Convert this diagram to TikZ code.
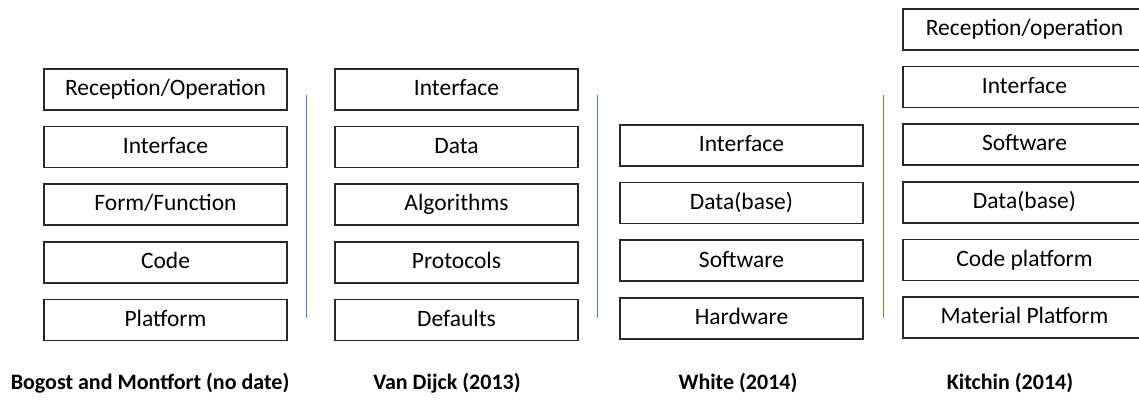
\documentclass[tikz,border=0pt]{standalone}
\usepackage{fontspec}
\setmainfont{Carlito}
\usetikzlibrary{positioning}

\definecolor{sepblue}{RGB}{85,125,185}
\definecolor{boxline}{RGB}{40,40,40}

\begin{document}
\begin{tikzpicture}%
        [x=1pt, y=-1pt,
        node distance=15pt,
        layer/.style={draw=boxline, line width=1.6pt, minimum width=243pt, minimum height=41pt,
                      inner sep=0pt, text height=17pt, text depth=4.4pt,
                      font=\fontsize{23.5}{27}\selectfont},
        caption/.style={font=\fontsize{22}{26}\selectfont\bfseries},
        sep/.style={draw=sepblue, line width=1.5pt}]

    \useasboundingbox (0,0) rectangle (1139,403);
    \clip (0,0) rectangle (1139,403);
    %% Bogost and Montfort
    \node[layer] (bm1) at (165.5,89.5) {Reception/Operation};
    \node[layer, below=of bm1] (bm2) {Interface};
    \node[layer, below=of bm2] (bm3) {Form/Function};
    \node[layer, below=of bm3] (bm4) {Code};
    \node[layer, below=of bm4] (bm5) {Platform};
    %% Van Dijck
    \node[layer] (vd1) at (456.5,89.5) {Interface};
    \node[layer, below=of vd1] (vd2) {Data};
    \node[layer, below=of vd2] (vd3) {Algorithms};
    \node[layer, below=of vd3] (vd4) {Protocols};
    \node[layer, below=of vd4] (vd5) {Defaults};
    %% White
    \node[layer] (wh1) at (741.5,145.5) {Interface};
    \node[layer, below=of wh1] (wh2) {Data(base)};
    \node[layer, below=of wh2] (wh3) {Software};
    \node[layer, below=of wh3] (wh4) {Hardware};
    %% Kitchin
    \node[layer] (ki1) at (1024.5,29.5) {Reception/operation};
    \node[layer, below=of ki1] (ki2) {Interface};
    \node[layer, below=of ki2] (ki3) {Software};
    \node[layer, below=of ki3] (ki4) {Data(base)};
    \node[layer, below=of ki4] (ki5) {Code platform};
    \node[layer, below=of ki5] (ki6) {Material Platform};
    %%
    %% Captions
    %%
    \node[caption] (bmcap) at (150,383) {Bogost and Montfort (no date)};
    \node[caption] (vdcap) at (447,383) {Van Dijck (2013)};
    \node[caption] (whcap) at (738,383) {White (2014)};
    \node[caption] (kicap) at (1010,383) {Kitchin (2014)};
    %%
    %% Separators
    %%
    \draw[sep] (306.5,95) -- (306.5,318);
    \draw[sep] (597.5,95) -- (597.5,318);
    \draw[sep] (883.5,95) -- (883.5,318);
\end{tikzpicture}
\end{document}
